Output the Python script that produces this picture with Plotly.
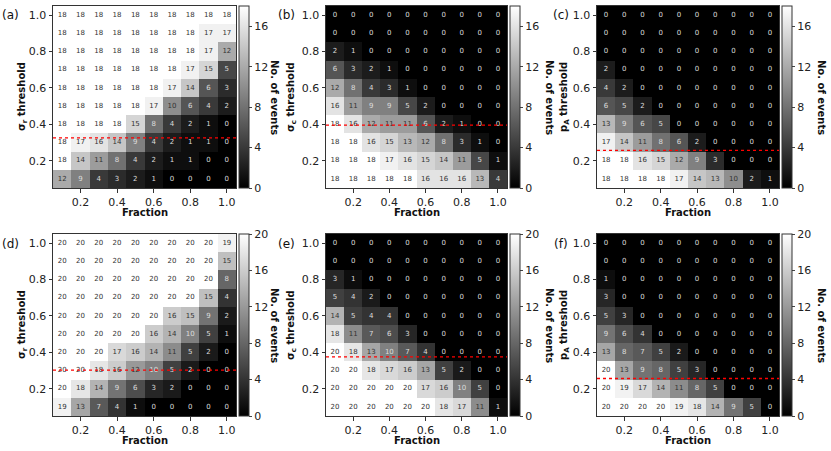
import plotly.graph_objects as go
import numpy as np

# cell centres (fraction on x, threshold on y)
fractions = [0.1, 0.2, 0.3, 0.4, 0.5, 0.6, 0.7, 0.8, 0.9, 1.0]
thresholds = [1.0, 0.9, 0.8, 0.7, 0.6, 0.5, 0.4, 0.3, 0.2, 0.1]  # rows listed top -> bottom

# number of events, rows top (1.0) -> bottom (0.1)
counts_a = [
    [18, 18, 18, 18, 18, 18, 18, 18, 18, 18],
    [18, 18, 18, 18, 18, 18, 18, 18, 17, 17],
    [18, 18, 18, 18, 18, 18, 18, 18, 17, 12],
    [18, 18, 18, 18, 18, 18, 18, 17, 15, 5],
    [18, 18, 18, 18, 18, 18, 17, 14, 6, 3],
    [18, 18, 18, 18, 18, 17, 10, 6, 4, 2],
    [18, 18, 18, 18, 15, 8, 4, 2, 1, 0],
    [18, 17, 16, 14, 9, 4, 2, 1, 1, 0],
    [18, 14, 11, 8, 4, 2, 1, 1, 0, 0],
    [12, 9, 4, 3, 2, 1, 0, 0, 0, 0],
]
counts_b = [
    [0, 0, 0, 0, 0, 0, 0, 0, 0, 0],
    [0, 0, 0, 0, 0, 0, 0, 0, 0, 0],
    [2, 1, 0, 0, 0, 0, 0, 0, 0, 0],
    [6, 3, 2, 1, 0, 0, 0, 0, 0, 0],
    [12, 8, 4, 3, 1, 0, 0, 0, 0, 0],
    [16, 11, 9, 9, 5, 2, 0, 0, 0, 0],
    [18, 16, 12, 11, 11, 6, 2, 1, 0, 0],
    [18, 18, 16, 15, 13, 12, 8, 3, 1, 0],
    [18, 18, 18, 17, 16, 15, 14, 11, 5, 1],
    [18, 18, 18, 18, 18, 16, 16, 16, 13, 4],
]
counts_c = [
    [0, 0, 0, 0, 0, 0, 0, 0, 0, 0],
    [0, 0, 0, 0, 0, 0, 0, 0, 0, 0],
    [0, 0, 0, 0, 0, 0, 0, 0, 0, 0],
    [2, 0, 0, 0, 0, 0, 0, 0, 0, 0],
    [4, 2, 0, 0, 0, 0, 0, 0, 0, 0],
    [6, 5, 2, 0, 0, 0, 0, 0, 0, 0],
    [13, 9, 6, 5, 0, 0, 0, 0, 0, 0],
    [17, 14, 11, 8, 6, 2, 0, 0, 0, 0],
    [18, 18, 16, 15, 12, 9, 3, 0, 0, 0],
    [18, 18, 18, 18, 17, 14, 13, 10, 2, 1],
]
counts_d = [
    [20, 20, 20, 20, 20, 20, 20, 20, 20, 19],
    [20, 20, 20, 20, 20, 20, 20, 20, 20, 15],
    [20, 20, 20, 20, 20, 20, 20, 20, 20, 8],
    [20, 20, 20, 20, 20, 20, 20, 20, 15, 4],
    [20, 20, 20, 20, 20, 20, 16, 15, 9, 2],
    [20, 20, 20, 20, 20, 16, 14, 10, 5, 1],
    [20, 20, 20, 17, 16, 14, 11, 5, 2, 0],
    [20, 20, 18, 16, 12, 10, 5, 2, 0, 0],
    [20, 18, 14, 9, 6, 3, 2, 0, 0, 0],
    [19, 13, 7, 4, 1, 0, 0, 0, 0, 0],
]
counts_e = [
    [0, 0, 0, 0, 0, 0, 0, 0, 0, 0],
    [0, 0, 0, 0, 0, 0, 0, 0, 0, 0],
    [3, 1, 0, 0, 0, 0, 0, 0, 0, 0],
    [5, 4, 2, 0, 0, 0, 0, 0, 0, 0],
    [14, 5, 4, 4, 0, 0, 0, 0, 0, 0],
    [18, 11, 7, 6, 3, 0, 0, 0, 0, 0],
    [20, 18, 13, 10, 7, 4, 0, 0, 0, 0],
    [20, 20, 18, 17, 16, 13, 5, 2, 0, 0],
    [20, 20, 20, 20, 20, 17, 16, 10, 5, 0],
    [20, 20, 20, 20, 20, 20, 18, 17, 11, 1],
]
counts_f = [
    [0, 0, 0, 0, 0, 0, 0, 0, 0, 0],
    [0, 0, 0, 0, 0, 0, 0, 0, 0, 0],
    [1, 0, 0, 0, 0, 0, 0, 0, 0, 0],
    [3, 0, 0, 0, 0, 0, 0, 0, 0, 0],
    [5, 3, 0, 0, 0, 0, 0, 0, 0, 0],
    [9, 6, 4, 0, 0, 0, 0, 0, 0, 0],
    [13, 8, 7, 5, 2, 0, 0, 0, 0, 0],
    [20, 13, 9, 8, 5, 3, 0, 0, 0, 0],
    [20, 19, 17, 14, 11, 8, 5, 0, 0, 0],
    [20, 20, 20, 20, 19, 18, 14, 9, 5, 0],
]

panel_labels = ['(a)', '(b)', '(c)', '(d)', '(e)', '(f)']
y_titles = ['σ<sub>r</sub> threshold', 'σ<sub>c</sub> threshold', 'p<sub>A</sub> threshold'] * 2
cut_lines = [0.325, 0.395, 0.257, 0.302, 0.375, 0.256]
zmax_rows = [18, 20]
cbar_ticks = [[0, 4, 8, 12, 16], [0, 4, 8, 12, 16, 20]]

all_counts = [counts_a, counts_b, counts_c, counts_d, counts_e, counts_f]

W, H = 831, 451
# pixel boxes of the plot areas
col_x = [(53, 236), (326, 507), (597, 779)]
row_y = [(6, 188), (234, 416)]
cbar_x = [239, 510, 782]
ytitle_x = [22, 291, 564]
cbtitle_x = [275, 550, 822]
label_x = [10, 286, 561]
label_y = [15, 244]
xtitle_y = [212, 440]

font = 'DejaVu Sans'
fig = go.Figure()
layout = {}
annotations = []
shapes = []

for i, counts in enumerate(all_counts):
    r, c = divmod(i, 3)
    n = '' if i == 0 else str(i + 1)
    z = np.array(counts)
    zmax = zmax_rows[r]
    x0, x1 = col_x[c]
    ytop, ybot = row_y[r]
    ymid = 1 - (ytop + ybot) / 2 / H

    fig.add_trace(go.Heatmap(
        x=fractions, y=thresholds, z=z,
        colorscale=[[0, 'black'], [1, 'white']],
        zmin=0, zmax=zmax,
        xaxis='x' + n, yaxis='y' + n,
        hoverinfo='skip',
        colorbar=dict(
            x=cbar_x[c] / W, xanchor='left', xpad=0,
            y=ymid, yanchor='middle', ypad=0,
            len=(ybot - ytop) / H, lenmode='fraction',
            thickness=10, thicknessmode='pixels',
            outlinewidth=1, outlinecolor='#333',
            tickvals=cbar_ticks[r], ticks='outside', ticklen=3,
            tickfont=dict(family=font, size=11, color='#222'),
        ),
    ))

    xs, ys, txt, cols = [], [], [], []
    for ri, yv in enumerate(thresholds):
        for ci, xv in enumerate(fractions):
            v = counts[ri][ci]
            xs.append(xv)
            ys.append(yv)
            txt.append(str(v))
            cols.append('#dddddd' if v / zmax < 0.55 else '#333333')
    fig.add_trace(go.Scatter(
        x=xs, y=ys, text=txt, mode='text',
        textfont=dict(family=font, size=7, color=cols),
        xaxis='x' + n, yaxis='y' + n,
        hoverinfo='skip', showlegend=False,
    ))

    ax = dict(
        range=[0.05, 1.05], showgrid=False, zeroline=False,
        tickvals=[0.2, 0.4, 0.6, 0.8, 1.0], ticktext=['0.2', '0.4', '0.6', '0.8', '1.0'],
        ticks='outside', ticklen=3.5, tickcolor='#333',
        showline=True, mirror=True, linecolor='#333', linewidth=1,
        tickfont=dict(family=font, size=11, color='#222'),
    )
    layout['xaxis' + n] = dict(ax, domain=[x0 / W, x1 / W], anchor='y' + n)
    layout['yaxis' + n] = dict(ax, domain=[1 - ybot / H, 1 - ytop / H], anchor='x' + n)

    shapes.append(dict(
        type='line', xref='x' + n + ' domain', yref='y' + n,
        x0=0, x1=1, y0=cut_lines[i], y1=cut_lines[i],
        line=dict(color='red', width=1.3, dash='dot'),
    ))

    common = dict(xref='paper', yref='paper', showarrow=False,
                  xanchor='center', yanchor='middle')
    annotations += [
        dict(common, text=panel_labels[i], x=label_x[c] / W, y=1 - label_y[r] / H,
             font=dict(family=font, size=12, color='#111')),
        dict(common, text='<b>' + y_titles[i] + '</b>', x=ytitle_x[c] / W, y=ymid,
             textangle=-90, font=dict(family=font, size=10, color='#111')),
        dict(common, text='<b>No. of events</b>', x=cbtitle_x[c] / W, y=ymid,
             textangle=90, font=dict(family=font, size=10, color='#111')),
        dict(common, text='<b>Fraction</b>', x=(x0 + x1) / 2 / W, y=1 - xtitle_y[r] / H,
             font=dict(family=font, size=10, color='#111')),
    ]

fig.update_layout(
    width=W, height=H,
    margin=dict(l=0, r=0, t=0, b=0),
    paper_bgcolor='white', plot_bgcolor='white',
    showlegend=False,
    annotations=annotations,
    shapes=shapes,
    **layout,
)

# the page body has a default 8px margin; drop it so the figure fills the window
fig.write_html("out.html", config={'displayModeBar': False},
               post_script="document.body.style.margin='0px';")
